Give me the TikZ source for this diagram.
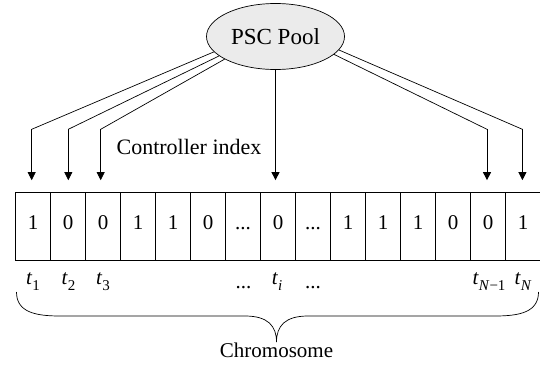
\documentclass[tikz,border=0pt]{standalone}
\usepackage{fontspec}
\setmainfont{LiberationSerif-Regular.ttf}[ItalicFont=LiberationSerif-Italic.ttf,BoldFont=LiberationSerif-Bold.ttf]
\usetikzlibrary{arrows.meta,calc,shapes.geometric}
\definecolor{poolfill}{HTML}{EBEBEB}
\newcommand\tsub[1]{\textit{t}\raisebox{-0.3em}{\fontsize{15}{15}\selectfont #1}}
\newcommand\ddd{...}
\begin{document}
\begin{tikzpicture}[x=1pt,y=-1pt,
  every node/.style={font=\rmfamily\fontsize{21}{25}\selectfont},
  pool/.style={ellipse,draw,fill=poolfill,line width=0.7pt,minimum width=138pt,minimum height=66pt,inner sep=0pt,font=\rmfamily\fontsize{23}{27}\selectfont},
  cell/.style={draw,line width=0.7pt,minimum width=35pt,minimum height=68pt,inner sep=0pt,text height=14pt,text depth=7.4pt},
  conn/.style={line width=0.7pt},
  arr/.style={line width=0.7pt,-{Triangle[length=8pt,width=8pt]},shorten >=11.5pt},
  lbl/.style={anchor=base,inner sep=0pt}
]
\useasboundingbox (0,0) rectangle (540,367);
\node[pool] (pool) at (275.5,36.5) {PSC Pool};
\foreach \i/\v in {1/1,2/0,3/0,4/1,5/1,6/0,7/\ddd,8/0,9/\ddd,10/1,11/1,12/1,13/0,14/0,15/1}{
  \node[cell] (c\i) at ({15.5+35*(\i-0.5)},226) {\v};
}
\coordinate (b1) at (31.7,129.3);
\coordinate (b2) at (68.3,129.3);
\coordinate (b3) at (100.7,129.3);
\coordinate (b14) at (487,129.3);
\coordinate (b15) at (522.4,129.3);
\draw[conn] (pool.194.2) -- (b1);
\draw[conn] (pool.199) -- (b2);
\draw[conn] (pool.204.5) -- (b3);
\draw[conn] (pool.-17.3) -- (b14);
\draw[conn] (pool.-12.1) -- (b15);
\draw[arr] (b1) -- (b1 |- c1.north);
\draw[arr] (b2) -- (b2 |- c2.north);
\draw[arr] (b3) -- (b3 |- c3.north);
\draw[arr] (b14) -- (b14 |- c14.north);
\draw[arr] (b15) -- (b15 |- c15.north);
\draw[arr] (pool.south) -- (pool.south |- c8.north);
\node[lbl,font=\rmfamily\fontsize{22}{26}\selectfont] (ctrl) at (189,154) {Controller index};
\node[lbl] (t1) at (33,284.5) {\tsub{1}};
\node[lbl] (t2) at (68.5,284.5) {\tsub{2}};
\node[lbl] (t3) at (103,284.5) {\tsub{3}};
\node[lbl] (d1) at (243.5,288) {\ddd};
\node[lbl] (ti) at (277,284.5) {\tsub{\textit{i}}};
\node[lbl] (d2) at (313,288) {\ddd};
\node[lbl] (tn1) at (489,284.5) {\tsub{\textit{N}−1}};
\node[lbl] (tn) at (523,284.5) {\tsub{\textit{N}}};
\coordinate (brl) at (16.5,292);
\coordinate (brr) at (538.5,292);
\coordinate (tip) at (276.5,342);
\draw[conn] (brl) .. controls (16.5,312) and (35,316) .. (60,316) -- (245,316)
  .. controls (268,316) and (276.5,326) .. (tip)
  .. controls (276.5,326) and (285,316) .. (308,316) -- (495,316)
  .. controls (520,316) and (538.5,312) .. (brr);
\node[lbl] (chrom) at (276.5,357) {Chromosome};
\end{tikzpicture}
\end{document}
